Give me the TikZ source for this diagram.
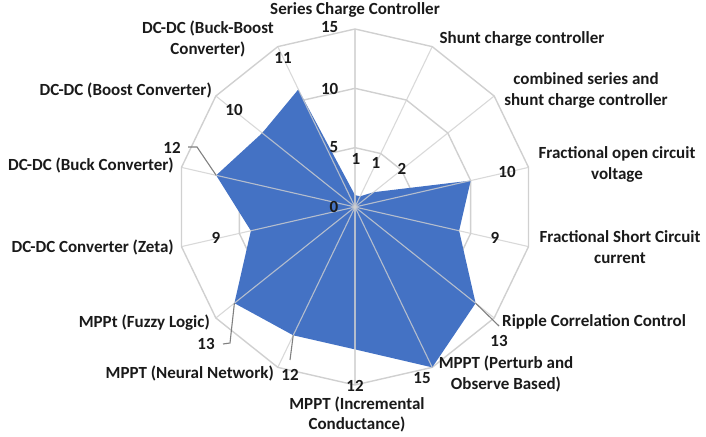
\documentclass[tikz,border=0pt]{standalone}
\usepackage{fontspec}
\setmainfont{Carlito}
\definecolor{chartblue}{HTML}{4472C4}
\definecolor{gridgray}{HTML}{D0D0D0}
\definecolor{leadgray}{HTML}{808080}
\definecolor{txt}{HTML}{1A1A1A}
\begin{document}
\begin{tikzpicture}[x=1pt,y=1pt,
  grid/.style={draw=gridgray,line width=1.4pt,line join=round},
  spoke/.style={draw=gridgray,line width=1.1pt,opacity=0.8},
  leader/.style={draw=leadgray,line width=1.1pt},
  cat/.style={inner sep=0pt,text=txt,font=\fontsize{17}{21}\selectfont\bfseries,align=center},
  num/.style={inner sep=0pt,text=txt,font=\fontsize{17}{21}\selectfont\bfseries}]
\useasboundingbox (0,0) rectangle (706,436);
\coordinate (O) at (355,229);
\def\u{11.8667}
% outer vertices
\foreach \k in {0,...,13}
  \coordinate (v\k) at ([shift={({90-\k*360/14}:15*\u)}]O);
% data points
\foreach \v [count=\i from 0] in {1,1,2,10,9,13,15,12,12,13,9,12,10,11}
  \coordinate (d\i) at ([shift={({90-\i*360/14}:\v*\u)}]O);
% rings
\foreach \r in {5,10,15}
  \draw[grid] ([shift={(90:\r*\u)}]O)
    \foreach \k in {1,...,13}{ -- ([shift={({90-\k*360/14}:\r*\u)}]O)} -- cycle;
% data area
\fill[chartblue] (d0) -- (d1) -- (d2) -- (d3) -- (d4) -- (d5) -- (d6) -- (d7)
  -- (d8) -- (d9) -- (d10) -- (d11) -- (d12) -- (d13) -- cycle;
% spokes
\foreach \k in {0,...,13}
  \draw[spoke] (O) -- (v\k);
% axis values
\node[num,anchor=base east] (a15) at (338.5,403) {15};
\node[num,anchor=base east] (a10) at (338.5,341) {10};
\node[num,anchor=base east] (a5) at (338.5,283) {5};
\node[num,anchor=base east] (a0) at (338.5,223) {0};
% category labels
\node[cat,anchor=base] (c0) at (355,421) {Series Charge Controller};
\node[cat,anchor=base] (c1) at (522,392) {Shunt charge controller};
\node[cat,anchor=base] (c2) at (586,330) {combined series and\\shunt charge controller};
\node[cat,anchor=base] (c3) at (617,256) {Fractional open circuit\\voltage};
\node[cat,anchor=base] (c4) at (620,172) {Fractional Short Circuit\\current};
\node[cat,anchor=base west] (c5) at (502,109) {Ripple Correlation Control};
\node[cat,anchor=base] (c6) at (506,46) {MPPT (Perturb and\\Observe Based)};
\node[cat,anchor=base] (c7) at (357,6) {MPPT (Incremental\\Conductance)};
\node[cat,anchor=base east] (c8) at (274,57) {MPPT (Neural Network)};
\node[cat,anchor=base east] (c9) at (210,108) {MPPt (Fuzzy Logic)};
\node[cat,anchor=base east] (c10) at (174,183) {DC-DC Converter (Zeta)};
\node[cat,anchor=base east] (c11) at (174,265) {DC-DC (Buck Converter)};
\node[cat,anchor=base east] (c12) at (212,340) {DC-DC (Boost Converter)};
\node[cat,anchor=base] (c13) at (208,381) {DC-DC (Buck-Boost\\Converter)};
% data labels
\node[num,anchor=base] (n0) at (356,271) {1};
\node[num,anchor=base] (n1) at (376,267) {1};
\node[num,anchor=base] (n2) at (402,261) {2};
\node[num,anchor=base] (n3) at (507,258) {10};
\node[num,anchor=base] (n4) at (495,192) {9};
\node[num,anchor=base] (n5) at (499,89) {13};
\node[num,anchor=base] (n6) at (422,52) {15};
\node[num,anchor=base] (n7) at (355,44) {12};
\node[num,anchor=base] (n8) at (290,55) {12};
\node[num,anchor=base] (n9) at (206,86) {13};
\node[num,anchor=base] (n10) at (216,192) {9};
\node[num,anchor=base] (n11) at (172,282) {12};
\node[num,anchor=base] (n12) at (234,320) {10};
\node[num,anchor=base] (n13) at (283,372) {11};
% leader lines
\coordinate (l5) at (499,110);
\coordinate (l8) at (290,76);
\coordinate (l9a) at (230,93);
\coordinate (l9b) at (223,92);
\coordinate (l11a) at (197,289);
\coordinate (l11b) at (188,289);
\draw[leader] (d5) -- (l5);
\draw[leader] (d8) -- (l8);
\draw[leader] (d9) -- (l9a) -- (l9b);
\draw[leader] (d11) -- (l11a) -- (l11b);
\end{tikzpicture}
\end{document}
